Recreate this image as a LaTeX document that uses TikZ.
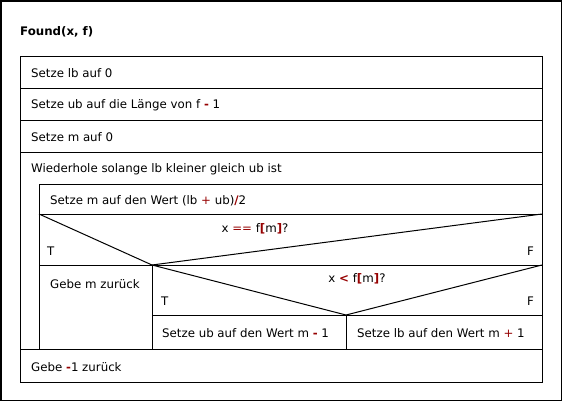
\documentclass[tikz,border=0pt]{standalone}
\usepackage{fontspec}
\setmainfont{DejaVu Sans}
\definecolor{opred}{RGB}{150,0,0}
\newcommand{\op}[1]{\textcolor{opred}{\textbf{#1}}}
\begin{document}
\begin{tikzpicture}[x=1pt,y=-1pt,
  every node/.style={font=\fontsize{11.8}{14}\selectfont, inner sep=0pt},
  cell/.style={draw=black, line width=1pt},
  txt/.style={anchor=west, yshift=-1.5pt},
  txtr/.style={anchor=east, yshift=-1.5pt},
  txtc/.style={yshift=-1.5pt}]
\useasboundingbox (0,0) rectangle (563,402);
\fill[white] (0,0) rectangle (563,402);
\draw[line width=1.5pt] (1,1) rectangle (561.5,400.5);
\node[txt, font=\fontsize{11.8}{14}\selectfont\bfseries] (title) at (20,30) {Found(x, f)};
% main block
\draw[cell] (20,56) rectangle (542,382);
\draw[cell] (20,88) -- (542,88);
\draw[cell] (20,120) -- (542,120);
\draw[cell] (20,152) -- (542,152);
\draw[cell] (39,184) -- (542,184);
\draw[cell] (39,184) -- (39,349);
\draw[cell] (20,349) -- (542,349);
\draw[cell] (39,214) -- (542,214);
\draw[cell] (39,265) -- (542,265);
% decision 1
\draw[cell] (39,214) -- (152,265) -- (542,214);
\draw[cell] (152,265) -- (152,349);
% decision 2
\draw[cell] (152,265) -- (346,315) -- (542,265);
\draw[cell] (152,315) -- (542,315);
\draw[cell] (346,315) -- (346,349);
% texts
\node[txt] (s1) at (31,72) {Setze lb auf 0};
\node[txt] (s2) at (31,104) {Setze ub auf die Länge von f \op{-} 1};
\node[txt] (s3) at (31,136) {Setze m auf 0};
\node[txt] (w) at (31,168) {Wiederhole solange lb kleiner gleich ub ist};
\node[txt] (s4) at (50,199) {Setze m auf den Wert (lb \textcolor{opred}{+} ub)\op{/}2};
\node[txtc] (d1) at (255,227) {x \textcolor{opred}{==} f\op{[}m\op{]}?};
\node[txt] (t1) at (47,250) {T};
\node[txtr] (f1) at (534,250) {F};
\node[txt] (r1) at (50,283) {Gebe m zurück};
\node[txtc] (d2) at (357,277) {x \op{<} f\op{[}m\op{]}?};
\node[txt] (t2) at (161,300) {T};
\node[txtr] (f2) at (534,300) {F};
\node[txt] (a1) at (162,332) {Setze ub auf den Wert m \op{-} 1};
\node[txt] (a2) at (357,332) {Setze lb auf den Wert m \textcolor{opred}{+} 1};
\node[txt] (r2) at (31,366) {Gebe \op{-}1 zurück};
\end{tikzpicture}
\end{document}
